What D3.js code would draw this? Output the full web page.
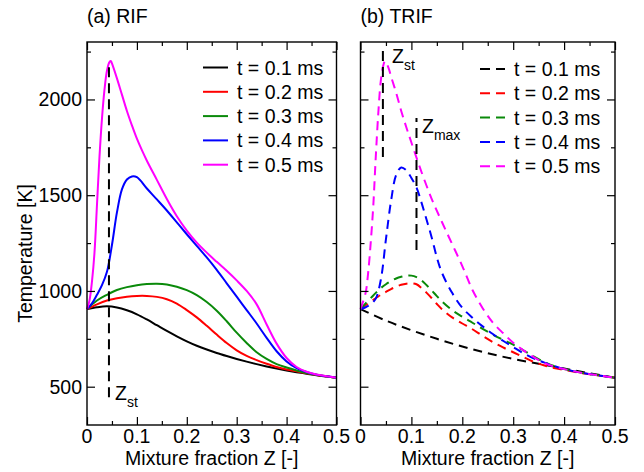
<!DOCTYPE html>
<html lang="en">
<head>
<meta charset="utf-8">
<title>RIF / TRIF temperature</title>
<script src="https://d3js.org/d3.v7.min.js"></script>
<style>
  body { margin: 0; background: #fff; }
  text { font-family: "Liberation Sans", Arial, sans-serif; fill: #000; }
</style>
</head>
<body>
<script>
// series labels and colours
const timeLabels = ["t = 0.1 ms", "t = 0.2 ms", "t = 0.3 ms", "t = 0.4 ms", "t = 0.5 ms"];
const seriesColors = ["#000000", "#ff0000", "#0a8a0a", "#0000ff", "#ff00ff"];

// (a) RIF  -- [Z, T]
const rif01 = [[0,905],[0.02,915],[0.04,920],[0.06,914],[0.08,899],[0.1,878],[0.12,851],[0.14,821],[0.16,791],[0.18,763],[0.2,737],[0.22,714],[0.24,694],[0.26,676],[0.28,660],[0.3,645],[0.32,631],[0.34,618],[0.36,606],[0.38,595],[0.4,585],[0.42,576],[0.44,568],[0.46,560],[0.48,553],[0.5,547]];
const rif02 = [[0,905],[0.02,930],[0.04,950],[0.06,962],[0.08,970],[0.1,974],[0.12,974],[0.14,969],[0.16,957],[0.18,934],[0.2,900],[0.22,862],[0.24,818],[0.26,772],[0.28,728],[0.3,690],[0.32,661],[0.34,639],[0.36,620],[0.38,603],[0.4,590],[0.42,580],[0.44,570],[0.46,561],[0.48,554],[0.5,547]];
const rif03 = [[0,905],[0.02,950],[0.04,980],[0.06,1005],[0.08,1020],[0.1,1030],[0.12,1036],[0.14,1038],[0.16,1034],[0.18,1022],[0.2,1004],[0.22,978],[0.24,942],[0.26,897],[0.28,842],[0.3,782],[0.32,728],[0.34,680],[0.36,645],[0.38,618],[0.4,600],[0.42,585],[0.44,572],[0.46,562],[0.48,554],[0.5,547]];
const rif04 = [[0,905],[0.01,935],[0.02,980],[0.03,1030],[0.04,1100],[0.05,1240],[0.06,1410],[0.07,1530],[0.08,1582],[0.09,1598],[0.1,1594],[0.12,1535],[0.14,1478],[0.16,1420],[0.18,1358],[0.2,1296],[0.22,1235],[0.24,1175],[0.26,1110],[0.28,1040],[0.3,970],[0.32,900],[0.34,830],[0.36,755],[0.38,685],[0.4,632],[0.42,597],[0.44,577],[0.46,563],[0.48,554],[0.5,547]];
const rif05 = [[0,905],[0.005,950],[0.01,1050],[0.015,1200],[0.02,1450],[0.025,1700],[0.03,1900],[0.035,2050],[0.04,2150],[0.045,2195],[0.048,2200],[0.05,2188],[0.06,2110],[0.07,2025],[0.08,1940],[0.09,1865],[0.1,1795],[0.11,1735],[0.12,1680],[0.14,1580],[0.16,1480],[0.18,1390],[0.2,1315],[0.22,1252],[0.24,1200],[0.26,1152],[0.28,1105],[0.3,1055],[0.32,1000],[0.34,930],[0.36,825],[0.38,725],[0.4,650],[0.42,603],[0.44,578],[0.46,564],[0.48,555],[0.5,547]];

// (b) TRIF -- [Z, T]
const trif01 = [[0,905],[0.05,845],[0.1,795],[0.15,750],[0.2,710],[0.25,675],[0.3,645],[0.35,620],[0.4,595],[0.45,570],[0.5,547]];
const trif02 = [[0,905],[0.01,925],[0.02,945],[0.03,962],[0.04,980],[0.05,995],[0.06,1010],[0.07,1022],[0.08,1032],[0.09,1038],[0.1,1040],[0.11,1035],[0.12,1015],[0.13,990],[0.14,962],[0.15,932],[0.16,905],[0.18,862],[0.2,830],[0.22,800],[0.24,765],[0.26,733],[0.28,705],[0.3,680],[0.32,655],[0.34,630],[0.36,612],[0.38,598],[0.4,588],[0.42,578],[0.44,569],[0.46,561],[0.48,554],[0.5,547]];
const trif03 = [[0,905],[0.01,935],[0.02,962],[0.03,990],[0.04,1015],[0.05,1035],[0.06,1052],[0.07,1065],[0.08,1074],[0.09,1080],[0.1,1080],[0.11,1072],[0.12,1055],[0.13,1030],[0.14,1002],[0.15,973],[0.16,946],[0.18,900],[0.2,865],[0.22,834],[0.24,802],[0.26,772],[0.28,745],[0.3,720],[0.32,690],[0.34,658],[0.36,630],[0.38,608],[0.4,592],[0.42,580],[0.44,570],[0.46,562],[0.48,554],[0.5,547]];
const trif04 = [[0,905],[0.01,915],[0.02,930],[0.03,960],[0.04,1060],[0.05,1270],[0.06,1470],[0.07,1605],[0.08,1645],[0.09,1630],[0.1,1590],[0.11,1540],[0.12,1460],[0.13,1370],[0.14,1278],[0.15,1175],[0.16,1095],[0.18,990],[0.2,912],[0.22,860],[0.24,815],[0.26,775],[0.28,740],[0.3,707],[0.32,675],[0.34,648],[0.36,627],[0.38,608],[0.4,592],[0.42,580],[0.44,570],[0.46,562],[0.48,554],[0.5,547]];
const trif05 = [[0,905],[0.01,990],[0.015,1094],[0.02,1250],[0.025,1440],[0.03,1700],[0.035,1930],[0.04,2100],[0.045,2180],[0.048,2200],[0.055,2165],[0.06,2120],[0.07,2035],[0.08,1940],[0.09,1855],[0.1,1775],[0.12,1620],[0.14,1480],[0.16,1360],[0.18,1245],[0.2,1130],[0.22,1005],[0.24,910],[0.26,835],[0.28,780],[0.3,730],[0.32,690],[0.34,655],[0.36,625],[0.38,605],[0.4,592],[0.42,580],[0.44,570],[0.46,562],[0.48,554],[0.5,547]];

// marker lines: [Z, Tbottom, Ttop]
const zstLeft = [0.044, 445, 2200];
const zstRight = [0.044, 1700, 2253];
const zmaxRight = [0.11, 1214, 1903];

const xTicks = [0, 0.1, 0.2, 0.3, 0.4, 0.5];
const xMinor = [0.05, 0.15, 0.25, 0.35, 0.45];
const yTicks = [500, 1000, 1500, 2000];
const yMinor = [750, 1250, 1750, 2250];

const W = 644, H = 472;
const plotTop = 42, plotBottom = 425;
const fs = 19.5;

const svg = d3.select("body").append("svg")
    .attr("width", W).attr("height", H);

const y = d3.scaleLinear().domain([300, 2300]).range([plotBottom, plotTop]);

function panel(x0, x1, title, series, dashed, showYLabels) {
    const x = d3.scaleLinear().domain([0, 0.5]).range([x0, x1]);
    const g = svg.append("g");

    // curves
    const line = d3.line().x(d => x(d[0])).y(d => y(d[1])).curve(d3.curveCatmullRom.alpha(0.5));
    series.forEach((s, i) => {
        g.append("path")
            .attr("d", line(s))
            .attr("fill", "none")
            .attr("stroke", seriesColors[i])
            .attr("stroke-width", 2)
            .attr("stroke-dasharray", dashed ? "9,6" : null);
    });

    // axes: ticks inward on all four sides
    g.append("g").attr("transform", `translate(0,${plotBottom})`)
        .call(d3.axisTop(x).tickValues(xTicks).tickSize(8).tickFormat(""));
    g.append("g").attr("transform", `translate(0,${plotBottom})`)
        .call(d3.axisTop(x).tickValues(xMinor).tickSize(4).tickFormat(""));
    g.append("g").attr("transform", `translate(0,${plotTop})`)
        .call(d3.axisBottom(x).tickValues(xTicks).tickSize(8).tickFormat(""));
    g.append("g").attr("transform", `translate(0,${plotTop})`)
        .call(d3.axisBottom(x).tickValues(xMinor).tickSize(4).tickFormat(""));
    g.append("g").attr("transform", `translate(${x0},0)`)
        .call(d3.axisRight(y).tickValues(yTicks).tickSize(8).tickFormat(""));
    g.append("g").attr("transform", `translate(${x0},0)`)
        .call(d3.axisRight(y).tickValues(yMinor).tickSize(4).tickFormat(""));
    g.append("g").attr("transform", `translate(${x1},0)`)
        .call(d3.axisLeft(y).tickValues(yTicks).tickSize(8).tickFormat(""));
    g.append("g").attr("transform", `translate(${x1},0)`)
        .call(d3.axisLeft(y).tickValues(yMinor).tickSize(4).tickFormat(""));
    g.selectAll(".domain").remove();
    g.selectAll(".tick line").attr("stroke", "#000").attr("stroke-width", 1.2);

    // frame
    g.append("rect")
        .attr("x", x0).attr("y", plotTop)
        .attr("width", x1 - x0).attr("height", plotBottom - plotTop)
        .attr("fill", "none").attr("stroke", "#000").attr("stroke-width", 1.4);

    // x tick labels
    g.selectAll(".xl").data(xTicks).enter().append("text")
        .attr("x", d => x(d)).attr("y", plotBottom + 18)
        .attr("text-anchor", "middle").style("font-size", fs + "px")
        .text(d => d === 0 ? "0" : d3.format(".1f")(d));

    g.append("text")
        .attr("x", (x0 + x1) / 2).attr("y", plotBottom + 40)
        .attr("text-anchor", "middle").style("font-size", fs + "px")
        .text("Mixture fraction Z [-]");

    if (showYLabels) {
        g.selectAll(".yl").data(yTicks).enter().append("text")
            .attr("x", x0 - 5).attr("y", d => y(d) + 7)
            .attr("text-anchor", "end").style("font-size", fs + "px")
            .text(d => d);
    }

    g.append("text")
        .attr("x", x0).attr("y", 23)
        .style("font-size", fs + "px")
        .text(title);

    return { g, x };
}

const left = panel(87, 336.5, "(a) RIF", [rif01, rif02, rif03, rif04, rif05], false, true);
const right = panel(360.5, 615, "(b) TRIF", [trif01, trif02, trif03, trif04, trif05], true, false);

// y label
svg.append("text")
    .attr("transform", `translate(32,${(plotTop + plotBottom) / 2 + 20}) rotate(-90)`)
    .attr("text-anchor", "middle").style("font-size", fs + "px")
    .text("Temperature [K]");

// marker lines
function marker(p, m) {
    p.g.append("line")
        .attr("x1", p.x(m[0])).attr("x2", p.x(m[0]))
        .attr("y1", y(m[1])).attr("y2", y(m[2]))
        .attr("stroke", "#000").attr("stroke-width", 2)
        .attr("stroke-dasharray", "10,6");
}
marker(left, zstLeft);
marker(right, zstRight);
marker(right, zmaxRight);

function zLabel(xp, yp, sub) {
    const t = svg.append("text").attr("x", xp).attr("y", yp).style("font-size", fs + "px");
    t.append("tspan").text("Z");
    t.append("tspan").attr("dy", 7).style("font-size", "14px").text(sub);
}
zLabel(115, 400, "st");
zLabel(392, 63, "st");
zLabel(422, 133, "max");

// legends
function legend(x0, y0, dashed) {
    timeLabels.forEach((lab, i) => {
        const yy = y0 + i * 24.3;
        svg.append("line")
            .attr("x1", x0).attr("x2", x0 + 25)
            .attr("y1", yy).attr("y2", yy)
            .attr("stroke", seriesColors[i]).attr("stroke-width", 2)
            .attr("stroke-dasharray", dashed ? "10,6" : null);
        svg.append("text")
            .attr("x", x0 + 34).attr("y", yy + 7)
            .style("font-size", fs + "px")
            .text(lab);
    });
}
legend(203, 67.5, false);
legend(480, 69, true);
</script>
</body>
</html>
